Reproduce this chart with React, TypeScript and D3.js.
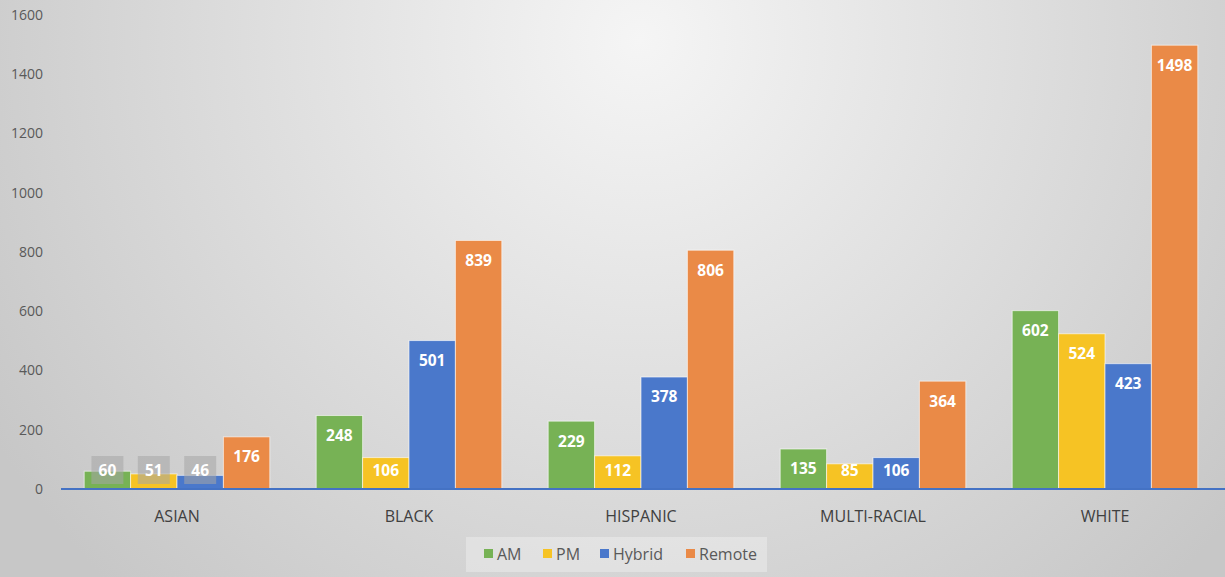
import React, { useEffect, useRef } from 'react';
import * as d3 from 'd3';

const categories = ['ASIAN', 'BLACK', 'HISPANIC', 'MULTI-RACIAL', 'WHITE'];
const seriesNames = ['AM', 'PM', 'Hybrid', 'Remote'];
const amValues = [60, 248, 229, 135, 602];
const pmValues = [51, 106, 112, 85, 524];
const hybridValues = [46, 501, 378, 106, 423];
const remoteValues = [176, 839, 806, 364, 1498];
const yTicks = [0, 200, 400, 600, 800, 1000, 1200, 1400, 1600];
const colors = ['#77b255', '#f6c324', '#4a78cb', '#ea8a47'];

const App = () => {
  const svgRef = useRef();

  useEffect(() => {
    const svg = d3.select(svgRef.current);
    svg.selectAll('*').remove();

    const width = 1225, height = 577;
    const font = '"Open Sans", "Segoe UI", sans-serif';

    const defs = svg.append('defs');
    const grad = defs.append('radialGradient')
      .attr('id', 'bg')
      .attr('gradientUnits', 'userSpaceOnUse')
      .attr('cx', 640).attr('cy', 40).attr('r', 760);
    grad.append('stop').attr('offset', '0%').attr('stop-color', '#f5f5f5');
    grad.append('stop').attr('offset', '100%').attr('stop-color', '#c7c7c7');

    svg.append('rect').attr('width', width).attr('height', height).attr('fill', 'url(#bg)');

    const x0 = d3.scaleBand().domain(categories).range([61, 1221]).padding(0);
    const x1 = d3.scaleBand().domain(seriesNames)
      .range([x0.bandwidth() * 0.1, x0.bandwidth() * 0.9]).padding(0);
    const y = d3.scaleLinear().domain([0, 1600]).range([489, 15]);

    // y tick labels
    svg.append('g').selectAll('text')
      .data(yTicks)
      .enter()
      .append('text')
      .attr('x', 43)
      .attr('y', d => y(d))
      .attr('dy', '0.35em')
      .attr('text-anchor', 'end')
      .attr('font-family', font)
      .attr('font-size', 14)
      .attr('fill', '#595959')
      .text(d => d);

    const series = [amValues, pmValues, hybridValues, remoteValues];
    const rows = [];
    categories.forEach((c, ci) => {
      seriesNames.forEach((s, si) => {
        rows.push({ cat: c, name: s, value: series[si][ci], color: colors[si] });
      });
    });

    const bars = svg.append('g');
    bars.selectAll('rect')
      .data(rows)
      .enter()
      .append('rect')
      .attr('x', d => x0(d.cat) + x1(d.name))
      .attr('y', d => y(d.value))
      .attr('width', x1.bandwidth())
      .attr('height', d => y(0) - y(d.value))
      .attr('fill', d => d.color)
      .attr('stroke', '#ffffff')
      .attr('stroke-opacity', 0.6)
      .attr('stroke-width', 1);

    // labels sit near the bar top but never lower than just above the axis;
    // bars too short for the text get a gray box behind
    const labels = svg.append('g');
    rows.forEach(d => {
      const cx = x0(d.cat) + x1(d.name) + x1.bandwidth() / 2;
      const short = y(0) - y(d.value) < 20;
      const ly = Math.min(y(d.value) + 20, y(0) - 18);
      if (short) {
        labels.append('rect')
          .attr('x', cx - 16)
          .attr('y', ly - 15)
          .attr('width', 32)
          .attr('height', 28)
          .attr('fill', '#a6a6a6')
          .attr('opacity', 0.55);
      }
      labels.append('text')
        .attr('x', cx)
        .attr('y', ly)
        .attr('dy', '0.35em')
        .attr('text-anchor', 'middle')
        .attr('font-family', font)
        .attr('font-size', 15.5)
        .attr('font-weight', 'bold')
        .attr('fill', '#ffffff')
        .text(d.value);
    });

    // axis line
    svg.append('line')
      .attr('x1', 61).attr('x2', 1225)
      .attr('y1', y(0)).attr('y2', y(0))
      .attr('stroke', '#4472c4')
      .attr('stroke-width', 2);

    // category labels
    svg.append('g').selectAll('text')
      .data(categories)
      .enter()
      .append('text')
      .attr('x', d => x0(d) + x0.bandwidth() / 2)
      .attr('y', 516)
      .attr('dy', '0.35em')
      .attr('text-anchor', 'middle')
      .attr('font-family', font)
      .attr('font-size', 16)
      .attr('fill', '#404040')
      .text(d => d);

    // legend
    const legend = svg.append('g');
    legend.append('rect')
      .attr('x', 466).attr('y', 537)
      .attr('width', 301).attr('height', 35)
      .attr('fill', '#ffffff')
      .attr('opacity', 0.3);
    const legendX = [484, 543, 600, 686];
    seriesNames.forEach((s, i) => {
      legend.append('rect')
        .attr('x', legendX[i]).attr('y', 549)
        .attr('width', 9).attr('height', 9)
        .attr('fill', colors[i]);
      legend.append('text')
        .attr('x', legendX[i] + 13)
        .attr('y', 554)
        .attr('dy', '0.35em')
        .attr('font-family', font)
        .attr('font-size', 16)
        .attr('fill', '#595959')
        .text(s);
    });
  }, []);

  return (
    <div style={{ position: 'absolute', left: 0, top: 0, width: '1225px', height: '577px', overflow: 'hidden' }}>
      <svg ref={svgRef} width={1225} height={577}></svg>
    </div>
  );
};

export default App;
